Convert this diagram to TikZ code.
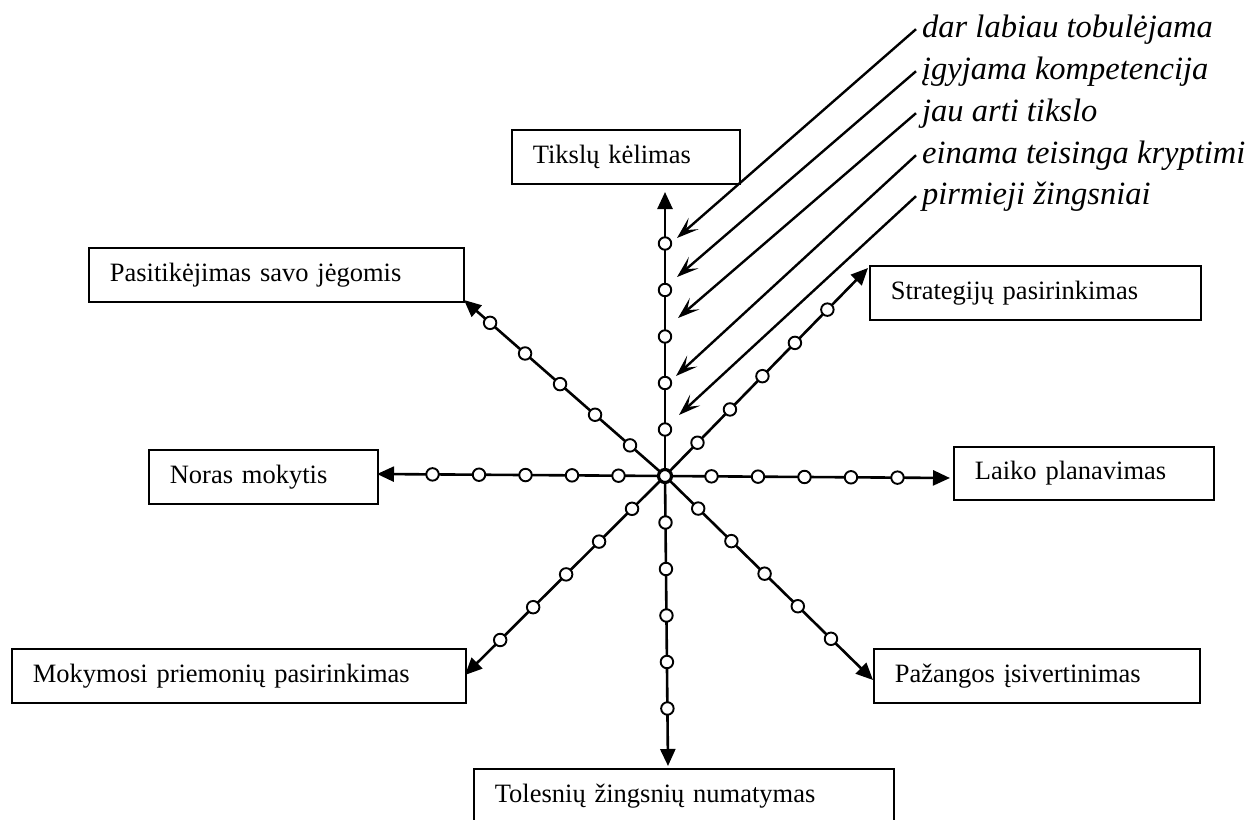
\documentclass[tikz,border=0pt]{standalone}
\usepackage{fontspec}
\setmainfont{Liberation Serif}
\usetikzlibrary{calc,arrows.meta}
\begin{document}
\begin{tikzpicture}[x=1pt,y=-1pt,
  lbox/.style={draw, line width=1.7pt, minimum height=54pt, inner xsep=21pt, inner ysep=0pt,
               align=left, anchor=north west, font=\fontsize{26.5}{30}\selectfont},
  tag/.style={anchor=base west, inner sep=0pt, font=\fontsize{32.5}{36}\selectfont\itshape},
  axis/.style={line width=2.6pt, -{Triangle[length=17pt,width=15pt]}},
  pointer/.style={line width=2.4pt, -{Stealth[length=22pt,width=15pt,inset=10pt]}},
  dot/.style={circle, draw, fill=white, line width=1.9pt, minimum size=12.5pt, inner sep=0pt},
  hub/.style={circle, draw, fill=white, line width=3.2pt, minimum size=13pt, inner sep=0pt}]
\useasboundingbox (0,0) rectangle (1252,819);
\clip (0,0) rectangle (1252,819);

% boxes
\node[lbox, text width=186pt] (tik) at (511,129) {Tikslų kėlimas};
\node[lbox, text width=333pt] (pas) at (88,247) {Pasitikėjimas savo jėgomis};
\node[lbox, text width=289pt] (str) at (869,265) {Strategijų pasirinkimas};
\node[lbox, text width=187pt] (nor) at (148,449) {Noras mokytis};
\node[lbox, text width=218pt, minimum height=53pt] (lai) at (953,446) {Laiko planavimas};
\node[lbox, text width=412pt] (mok) at (11,648) {Mokymosi priemonių pasirinkimas};
\node[lbox, text width=284pt] (paz) at (873,648) {Pažangos įsivertinimas};
\node[lbox, text width=378pt] (tol) at (473,768) {Tolesnių žingsnių numatymas};

% centre and arrow tips of the eight axes
\coordinate (o) at (665,476);
\coordinate (tN) at (665,192);
\coordinate (tS) at (668,766);
\coordinate (tE) at (950,478);
\coordinate (tW) at (377,474);
\coordinate (tNE) at (868,268);
\coordinate (tSE) at (873,680);
\coordinate (tSW) at (465,675);
\coordinate (tNW) at (464,300);

\foreach \t in {tN,tS,tE,tW,tNE,tSE,tSW,tNW}{
  \draw[axis] (o) -- (\t);
  \foreach \k in {1,...,5}
    \node[dot] (\t-\k) at ($(o)!\k*46.5pt!(\t)$) {};
}
\node[hub] (c) at (o) {};

% stage labels
\node[tag] (l1) at (922,37) {dar labiau tobulėjama};
\node[tag] (l2) at (922,79) {įgyjama kompetencija};
\node[tag] (l3) at (922,121) {jau arti tikslo};
\node[tag] (l4) at (922,163) {einama teisinga kryptimi};
\node[tag] (l5) at (922,204) {pirmieji žingsniai};

\coordinate (p1) at (677,238);
\coordinate (p2) at (677,277);
\coordinate (p3) at (678,318);
\coordinate (p4) at (676,376);
\coordinate (p5) at (679,415);

\foreach \i in {1,...,5}
  \draw[pointer] ([xshift=-6pt]l\i.west) -- (p\i);
\end{tikzpicture}
\end{document}
